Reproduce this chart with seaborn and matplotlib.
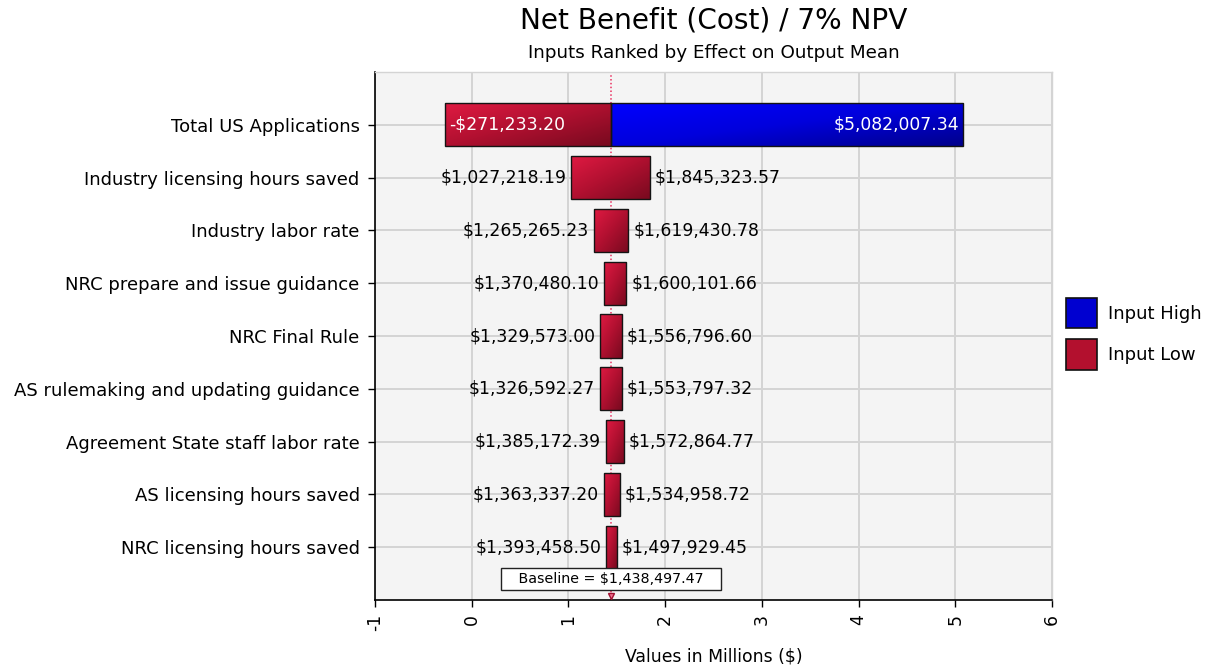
import numpy as np
import matplotlib
matplotlib.use("Agg")
import matplotlib.pyplot as plt
import seaborn as sns
from matplotlib.patches import Patch
from matplotlib.colors import LinearSegmentedColormap

# ---------------- data ----------------
inputs = [
    "Total US Applications",
    "Industry licensing hours saved",
    "Industry labor rate",
    "NRC prepare and issue guidance",
    "NRC Final Rule",
    "AS rulemaking and updating guidance",
    "Agreement State staff labor rate",
    "AS licensing hours saved",
    "NRC licensing hours saved",
]
low_values = [-271233.20, 1027218.19, 1265265.23, 1370480.10, 1329573.00,
              1326592.27, 1385172.39, 1363337.20, 1393458.50]
high_values = [5082007.34, 1845323.57, 1619430.78, 1600101.66, 1556796.60,
               1553797.32, 1572864.77, 1534958.72, 1497929.45]
baseline = 1438497.47
x_ticks = [-1, 0, 1, 2, 3, 4, 5, 6]
legend_labels = ["Input High", "Input Low"]
title = "Net Benefit (Cost) / 7% NPV"
subtitle = "Inputs Ranked by Effect on Output Mean"
xlabel = "Values in Millions ($)"

# ---------------- style ----------------
sns.set_style("white")
plt.rcParams["font.family"] = ["DejaVu Sans"]
for k in ["text.color", "axes.labelcolor", "xtick.color", "ytick.color"]:
    plt.rcParams[k] = "black"
FS = 12.4
FSY = 13.0

RED = "#b3102e"
BLUE = "#0000d0"

low_m = np.array(low_values) / 1e6
high_m = np.array(high_values) / 1e6
base_m = baseline / 1e6

# first row splits into low (red) and high (blue) parts; others drawn red
red_left = low_m
red_right = high_m.copy()
red_right[0] = base_m
red_w = red_right - red_left

fig = plt.figure(figsize=(12.16, 6.68), dpi=100)
ax = fig.add_axes([375 / 1216, 1 - 600 / 668, (1052 - 375) / 1216, (600 - 72) / 668])
ax.set_facecolor("#f4f4f4")

BAR_H = 0.82
sns.barplot(x=red_w, y=inputs, order=inputs, orient="h", left=red_left,
            color=RED, width=BAR_H, errorbar=None, edgecolor="#141414",
            linewidth=1.0, saturation=1, ax=ax)
sns.barplot(x=[high_m[0] - base_m], y=[inputs[0]], order=inputs, orient="h",
            left=[base_m], color=BLUE, width=BAR_H, errorbar=None,
            edgecolor="#141414", linewidth=1.0, saturation=1, ax=ax)

# gradient fill for bars
red_cmap = LinearSegmentedColormap.from_list("r", ["#e01a42", "#b01030", "#780a1f"])
blue_cmap = LinearSegmentedColormap.from_list("b", ["#0000ff", "#0000dc", "#00008c"])
n = 64
gi, gj = np.mgrid[0:n, 0:n]
grad = (gi / (n - 1) * 0.5 + gj / (n - 1) * 0.5)
for p in list(ax.patches):
    x0, y0, w, h = p.get_x(), p.get_y(), p.get_width(), p.get_height()
    fc = p.get_facecolor()
    cmap = blue_cmap if fc[2] > fc[0] else red_cmap
    p.set_facecolor("none")
    p.set_zorder(3)
    im = ax.imshow(grad, cmap=cmap, extent=(x0, x0 + w, y0 + h, y0),
                   origin="upper", aspect="auto", zorder=2.5, interpolation="bilinear")
    im.set_clip_path(p)

ax.set_xlim(x_ticks[0], x_ticks[-1])
ax.set_ylim(len(inputs), -1)

# grid & baseline
ax.grid(True, color="#d4d4d4", linewidth=1.4)
ax.set_axisbelow(True)
ax.axvline(base_m, color="#ea3060", linestyle=(0, (1, 1.5)), linewidth=1.1, zorder=1.5)

# labels
for i in range(len(inputs)):
    lo, hi = low_m[i], high_m[i]
    lo_txt = f"-${abs(low_values[i]):,.2f}" if low_values[i] < 0 else f"${low_values[i]:,.2f}"
    hi_txt = f"${high_values[i]:,.2f}"
    if i == 0:
        ax.text(lo + 0.04, i, lo_txt, ha="left", va="center", color="white",
                fontsize=FS, zorder=5)
        ax.text(hi - 0.04, i, hi_txt, ha="right", va="center", color="white",
                fontsize=FS, zorder=5)
    else:
        ax.text(lo - 0.05, i, lo_txt, ha="right", va="center", color="black",
                fontsize=FS, zorder=5)
        ax.text(hi + 0.05, i, hi_txt, ha="left", va="center", color="black",
                fontsize=FS, zorder=5)

ax.text(base_m, len(inputs) - 0.39, f"   Baseline = ${baseline:,.2f}   ",
        ha="center", va="center", fontsize=10.3, zorder=6,
        bbox=dict(boxstyle="square,pad=0.28", fc="white", ec="#222222", lw=1))
ax.plot([base_m], [len(inputs) - 0.07], marker="v", color="#f07090",
        markeredgecolor="#a01030", markersize=5, clip_on=False, zorder=7)

# axes
ax.set_xticks(x_ticks)
ax.set_xticklabels([str(t) for t in x_ticks], rotation=90, fontsize=FS)
ax.set_ylabel("")
ax.set_xlabel(xlabel, fontsize=FS, labelpad=12)
ax.tick_params(axis="y", labelsize=FSY, length=5, width=1, left=True, pad=6)
ax.tick_params(axis="x", length=5, width=1, bottom=True, pad=5)
for s in ["left", "bottom"]:
    ax.spines[s].set_color("black")
    ax.spines[s].set_linewidth(1.2)
for s in ["top", "right"]:
    ax.spines[s].set_color("#d4d4d4")
    ax.spines[s].set_linewidth(1.0)

# titles
cx = (375 + 1052) / 2 / 1216
fig.text(cx, 1 - 20 / 668, title, ha="center", va="center", fontsize=20.2)
fig.text(cx, 1 - 53 / 668, subtitle, ha="center", va="center", fontsize=13.2)

# legend
handles = [Patch(facecolor=BLUE, edgecolor="#101010", lw=1.2),
           Patch(facecolor=RED, edgecolor="#101010", lw=1.2)]
fig.legend(handles, legend_labels, loc="upper left",
           bbox_to_anchor=(1050 / 1216, 1 - 282 / 668), frameon=False,
           fontsize=FSY, handlelength=1.7, handleheight=2.2,
           labelspacing=0.6, handletextpad=0.6)

fig.savefig("out.png", dpi=100)
